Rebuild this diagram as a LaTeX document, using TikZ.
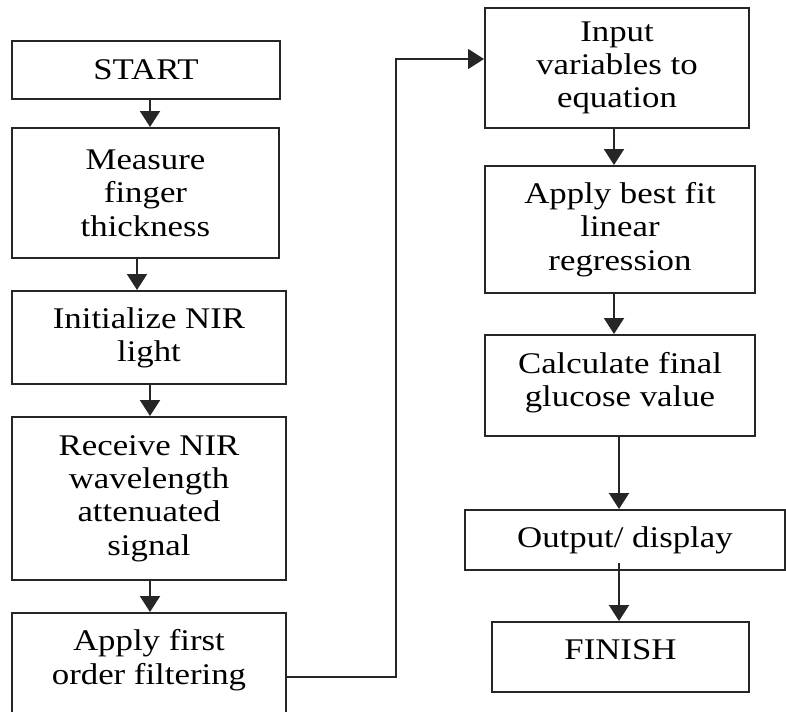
\documentclass[tikz,border=0pt]{standalone}
\usepackage{fontspec}
\setmainfont{Liberation Serif}[FakeStretch=1.16]
\usetikzlibrary{arrows.meta}
\begin{document}
\begin{tikzpicture}[x=0.75pt,y=-0.75pt,
  box/.style={draw=black!85, line width=1.5pt, rectangle, align=center, inner sep=0pt,
    font=\fontsize{22.5}{25}\selectfont},
  flow/.style={draw=black!85, line width=1.5pt, -{Triangle[width=15pt,length=12pt]}},
  back/.style={draw=black!85, line width=1.2pt, -{Triangle[width=15pt,length=12pt]}}]
\useasboundingbox (0,0) rectangle (786,711);
% left column
\node[box, minimum width=268*0.75pt, minimum height=58*0.75pt] (start) at (146,70) {START};
\node[box, minimum width=267*0.75pt, minimum height=130*0.75pt] (measure) at (145.5,193) {Measure\\finger\\thickness};
\node[box, minimum width=274*0.75pt, minimum height=93*0.75pt] (init) at (149,337.5) {Initialize NIR\\light};
\node[box, minimum width=274*0.75pt, minimum height=163*0.75pt] (receive) at (149,498.5) {Receive NIR\\wavelength\\attenuated\\signal};
\node[box, minimum width=274*0.75pt, minimum height=101*0.75pt, text depth=10pt] (apply) at (149,663.5) {Apply first\\order filtering};
% right column
\node[box, minimum width=264*0.75pt, minimum height=120*0.75pt] (input) at (617,68) {Input\\variables to\\equation};
\node[box, minimum width=270*0.75pt, minimum height=127*0.75pt] (bestfit) at (620,229.5) {Apply best fit\\linear\\regression};
\node[box, minimum width=270*0.75pt, minimum height=101*0.75pt, text depth=9pt] (calc) at (620,385.5) {Calculate final\\glucose value};
\node[box, minimum width=320*0.75pt, minimum height=60*0.75pt] (output) at (625,540) {Output/ display};
\node[box, minimum width=257*0.75pt, minimum height=70*0.75pt, text depth=11pt] (finish) at (620.5,657) {FINISH};
% connectors
\coordinate (a1) at (150,0);
\coordinate (a2) at (137,0);
\coordinate (a3) at (614,0);
\coordinate (a4) at (619,0);
\draw[flow] (start.south -| a1) -- (measure.north -| a1);
\draw[flow] (measure.south -| a2) -- (init.north -| a2);
\draw[flow] (init.south -| a1) -- (receive.north -| a1);
\draw[flow] (receive.south -| a1) -- (apply.north -| a1);
\draw[flow] (input.south -| a3) -- (bestfit.north -| a3);
\draw[flow] (bestfit.south -| a3) -- (calc.north -| a3);
\draw[flow] (calc.south -| a4) -- (output.north -| a4);
\coordinate (o1) at (619,563);
\draw[flow] (o1) -- (finish.north -| o1);
\coordinate (c1) at (396,677);
\coordinate (c2) at (396,59);
\draw[back] (apply.east |- c1) -- (c1) -- (c2) -- (c2 -| input.west);
\end{tikzpicture}
\end{document}
